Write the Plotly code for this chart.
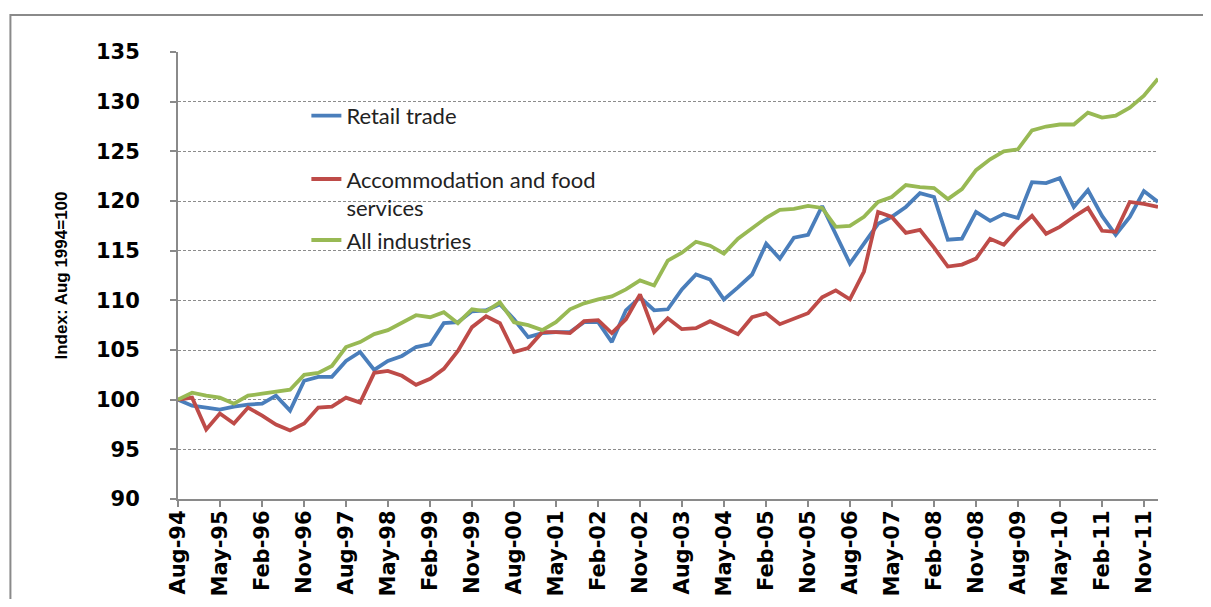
import pandas as pd
import plotly.graph_objects as go

# quarterly index, Aug 1994 = 100
quarters = pd.date_range("1994-08-01", periods=71, freq="3MS")

retail = [100.0, 99.4, 99.2, 99.0, 99.3, 99.5, 99.6, 100.4, 98.9, 101.9,
          102.3, 102.3, 103.9, 104.8, 103.0, 103.9, 104.4, 105.3, 105.6, 107.7,
          107.8, 108.9, 109.0, 109.6, 108.1, 106.3, 106.7, 106.8, 106.8, 107.8,
          107.8, 105.8, 109.0, 110.3, 109.0, 109.1, 111.1, 112.6, 112.1, 110.1,
          111.3, 112.6, 115.7, 114.2, 116.3, 116.6, 119.5, 116.7, 113.7, 115.7,
          117.7, 118.4, 119.4, 120.8, 120.4, 116.1, 116.2, 118.9, 118.0, 118.7,
          118.3, 121.9, 121.8, 122.3, 119.4, 121.1, 118.5, 116.6, 118.4, 121.0,
          119.9]

accommodation = [100.0, 100.2, 97.0, 98.6, 97.6, 99.2, 98.4, 97.5, 96.9, 97.6,
                 99.2, 99.3, 100.2, 99.7, 102.7, 102.9, 102.4, 101.5, 102.1, 103.1,
                 104.9, 107.3, 108.4, 107.7, 104.8, 105.2, 106.8, 106.8, 106.7, 107.9,
                 108.0, 106.7, 108.1, 110.6, 106.8, 108.2, 107.1, 107.2, 107.9, 107.3,
                 106.6, 108.3, 108.7, 107.6, 108.1, 108.7, 110.3, 111.0, 110.1, 112.9,
                 118.9, 118.4, 116.8, 117.1, 115.3, 113.4, 113.6, 114.2, 116.2, 115.6,
                 117.2, 118.5, 116.7, 117.4, 118.4, 119.3, 117.0, 116.9, 119.9, 119.7,
                 119.4]

all_industries = [100.0, 100.7, 100.4, 100.2, 99.6, 100.4, 100.6, 100.8, 101.0, 102.5,
                  102.7, 103.4, 105.3, 105.8, 106.6, 107.0, 107.7, 108.5, 108.3, 108.8,
                  107.7, 109.1, 108.9, 109.8, 107.8, 107.5, 107.0, 107.8, 109.1, 109.7,
                  110.1, 110.4, 111.1, 112.0, 111.5, 114.0, 114.8, 115.9, 115.5, 114.7,
                  116.2, 117.3, 118.3, 119.1, 119.2, 119.5, 119.3, 117.4, 117.5, 118.4,
                  119.9, 120.4, 121.6, 121.4, 121.3, 120.2, 121.2, 123.1, 124.2, 125.0,
                  125.2, 127.1, 127.5, 127.7, 127.7, 128.9, 128.4, 128.6, 129.4, 130.6,
                  132.3]

tick_font = dict(family="DejaVu Sans", size=21, color="black", weight="bold")
legend_font = dict(family="Lato", size=22, color="#222222")

fig = go.Figure()
fig.add_trace(go.Scatter(x=quarters, y=retail, mode="lines", name="Retail trade",
                         line=dict(color="#4A7EBB", width=3.8), legend="legend"))
fig.add_trace(go.Scatter(x=quarters, y=accommodation, mode="lines",
                         name="Accommodation and food<br>services",
                         line=dict(color="#BE4B48", width=3.8), legend="legend2"))
fig.add_trace(go.Scatter(x=quarters, y=all_industries, mode="lines", name="All industries",
                         line=dict(color="#98B954", width=3.8), legend="legend3"))

leg = dict(xanchor="left", yanchor="middle", bgcolor="rgba(0,0,0,0)",
           font=legend_font, valign="top", x=0.131)

# the page body adds an 8px offset, so the figure is 16px smaller than the window
fig.update_layout(
    width=1195, height=591,
    margin=dict(l=170, r=45, t=44, b=100),
    paper_bgcolor="white", plot_bgcolor="white",
    showlegend=True,
    legend=dict(leg, y=0.857),
    legend2=dict(leg, y=0.683),
    legend3=dict(leg, y=0.579),
    xaxis=dict(range=["1994-08-01", "2012-02-01"], tick0="1994-08-01", dtick="M9",
               tickformat="%b-%y", tickangle=-90, tickfont=tick_font,
               showgrid=False, showline=True, linecolor="#8a8a8a", linewidth=2,
               ticks="outside", ticklen=6, tickcolor="#8a8a8a", tickwidth=1.5,
               ticklabelstandoff=-5, automargin=False),
    yaxis=dict(range=[90, 135], dtick=5, tickfont=tick_font,
               showgrid=True, gridcolor="#8c8c8c", gridwidth=1, griddash="3px,2px",
               showline=True, linecolor="#8a8a8a", linewidth=2, zeroline=False,
               ticks="outside", ticklen=6, tickcolor="#8a8a8a", tickwidth=1.5,
               ticklabelstandoff=26, automargin=False,
               title=dict(text="Index: Aug 1994=100", standoff=24,
                          font=dict(family="Liberation Sans", size=17,
                                    color="black", weight="bold"))),
    shapes=[dict(type="rect", xref="paper", yref="paper",
                 x0=-0.171, x1=1.2, y0=-0.6, y1=1.083,
                 line=dict(color="#8a8a8a", width=2))],
)

fig.write_html("out.html")
